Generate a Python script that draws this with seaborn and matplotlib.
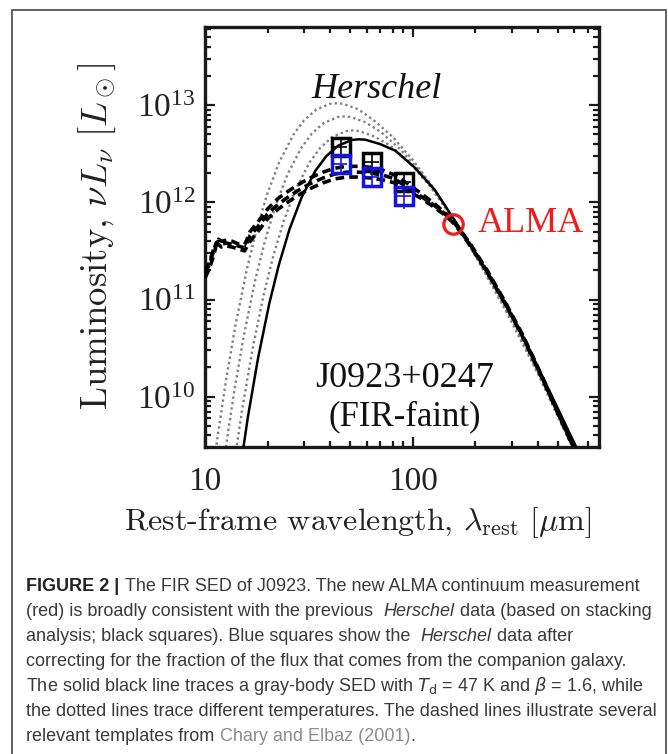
import matplotlib
matplotlib.use('Agg')
import numpy as np
import pandas as pd
import matplotlib.pyplot as plt
import seaborn as sns
from matplotlib.patches import Rectangle
from matplotlib.ticker import LogLocator, NullFormatter, FixedLocator, FixedFormatter


# ---- values (wavelength in micron, log10 of nuL_nu in L_sun) ----
# gray body, T = 47 K (solid)
lam_47 = [13.31, 14.58, 16.11, 18.01, 20.41, 22.68, 25.51, 29.16, 34.01, 38.27, 43.73, 51.02,
          54.86, 58.87, 69.58, 82.74, 102.0, 127.6, 161.1, 204.1, 266.2, 360.2, 510.2, 765.3]
logL_47 = [8.526, 9.173, 9.798, 10.397, 10.961, 11.356, 11.721, 12.048, 12.324, 12.472, 12.582, 12.642,
           12.648, 12.645, 12.60, 12.53, 12.36, 12.13, 11.80, 11.455, 11.035, 10.512, 9.842, 9.049]

# gray bodies at other temperatures (dotted)
lam_50 = [12.51, 13.70, 15.15, 16.93, 19.18, 21.32, 23.98, 27.41, 31.97, 35.97, 41.11, 47.96,
          51.57, 55.34, 65.4, 77.77, 95.92, 119.9, 151.5, 191.8, 250.2, 338.5, 479.6, 719.4]
logL_50 = [8.617, 9.264, 9.889, 10.487, 11.051, 11.447, 11.812, 12.138, 12.415, 12.563, 12.673, 12.733,
           12.739, 12.733, 12.677, 12.586, 12.416, 12.178, 11.876, 11.534, 11.121, 10.603, 9.937, 9.144]
lam_55 = [11.37, 12.46, 13.77, 15.39, 17.44, 19.38, 21.8, 24.91, 29.07, 32.7, 37.37, 43.6,
          46.88, 50.31, 59.45, 70.7, 87.2, 109.0, 137.7, 174.4, 227.5, 307.8, 436.0, 654.0]
logL_55 = [8.761, 9.408, 10.033, 10.632, 11.196, 11.591, 11.956, 12.283, 12.559, 12.707, 12.817, 12.877,
           12.883, 12.878, 12.822, 12.72, 12.545, 12.312, 12.015, 11.668, 11.255, 10.752, 10.097, 9.299]
lam_60 = [10.43, 11.42, 12.62, 14.11, 15.99, 17.76, 19.98, 22.84, 26.64, 29.98, 34.26, 39.97,
          42.97, 46.12, 54.5, 64.81, 79.93, 99.92, 126.2, 159.9, 208.5, 282.1, 399.7, 599.5, 799.3]
logL_60 = [8.897, 9.544, 10.169, 10.767, 11.332, 11.727, 12.092, 12.419, 12.695, 12.843, 12.953, 13.013,
           13.019, 13.014, 12.958, 12.846, 12.676, 12.438, 12.146, 11.794, 11.386, 10.878, 10.243, 9.44, 8.868]

# Chary & Elbaz templates (dashed)
lam_tpl = [10, 10.5, 11, 11.3, 11.6, 12, 12.7, 13.5, 14.5, 15.5, 16.5, 18, 20, 22.5, 25, 28, 32, 37,
           42, 48, 55, 63, 72, 82, 95, 110, 127, 145, 160, 190, 230, 280, 340, 420, 510, 620, 750]
logL_tpl_a = [11.27, 11.36, 11.50, 11.58, 11.60, 11.57, 11.58, 11.57, 11.55, 11.53, 11.66, 11.75, 11.88,
              11.98, 12.05, 12.12, 12.19, 12.25, 12.29, 12.31, 12.31, 12.30, 12.28, 12.24, 12.15, 12.06,
              11.97, 11.87, 11.78, 11.56, 11.28, 10.96, 10.62, 10.20, 9.80, 9.40, 8.95]
logL_tpl_b = [11.22, 11.32, 11.45, 11.55, 11.62, 11.60, 11.61, 11.60, 11.57, 11.56, 11.70, 11.80, 11.93,
              12.04, 12.11, 12.18, 12.25, 12.31, 12.35, 12.37, 12.37, 12.36, 12.33, 12.28, 12.19, 12.09,
              11.99, 11.88, 11.79, 11.57, 11.29, 10.97, 10.63, 10.21, 9.81, 9.41, 8.96]
logL_tpl_c = [11.30, 11.38, 11.52, 11.57, 11.57, 11.54, 11.55, 11.54, 11.52, 11.50, 11.60, 11.70, 11.83,
              11.93, 12.00, 12.07, 12.14, 12.20, 12.24, 12.26, 12.26, 12.25, 12.23, 12.20, 12.12, 12.04,
              11.95, 11.86, 11.77, 11.55, 11.27, 10.95, 10.61, 10.19, 9.79, 9.39, 8.94]

# photometry
herschel_lam = [45, 64, 91]
herschel_L = [3.7e12, 2.6e12, 1.63e12]
herschel_yerr = [0.7e12, 0.5e12, 0.32e12]
corrected_L = [2.5e12, 1.84e12, 1.15e12]
corrected_yerr = [0.6e12, 0.45e12, 0.3e12]
herschel_xerr = [3.5, 5.0, 7.1]
alma_lam = [157]
alma_L = [6.0e11]

xticks = [10, 100]
xtick_labels = ['10', '100']

caption_lines = [
    [('FIGURE 2 |', 'bold'), (' The FIR SED of J0923. The new ALMA continuum measurement', 'normal')],
    [('(red) is broadly consistent with the previous  ', 'normal'), ('Herschel', 'italic'),
     (' data (based on stacking', 'normal')],
    [('analysis; black squares). Blue squares show the  ', 'normal'), ('Herschel', 'italic'),
     (' data after', 'normal')],
    [('correcting for the fraction of the flux that comes from the companion galaxy.', 'normal')],
    [(r'The solid black line traces a gray-body SED with $T_\mathrm{d}$ = 47 K and $\beta$ = 1.6, while',
      'normal')],
    [('the dotted lines trace different temperatures. The dashed lines illustrate several', 'normal')],
    [('relevant templates from ', 'normal'), ('Chary and Elbaz (2001)', 'link'), ('.', 'normal')],
]


def curve(lam, logL):
    return pd.DataFrame({'lam': lam, 'L': 10 ** np.array(logL)})


sns.set_theme(style='ticks')
plt.rcParams['font.family'] = ['Liberation Serif', 'DejaVu Serif']
plt.rcParams['mathtext.fontset'] = 'stix'

fig = plt.figure(figsize=(6.68, 7.54), dpi=100)
ax = fig.add_axes([205 / 668, 1 - 447 / 754, 394 / 668, 420 / 754])
ax.set_xscale('log')
ax.set_yscale('log')

# dotted gray bodies
for lam, logL in [(lam_60, logL_60), (lam_55, logL_55), (lam_50, logL_50)]:
    sns.lineplot(data=curve(lam, logL), x='lam', y='L', ax=ax, color='#808080', lw=1.7,
                 linestyle=(0, (1, 1.3)), zorder=2)
# solid gray body
sns.lineplot(data=curve(lam_47, logL_47), x='lam', y='L', ax=ax, color='black', lw=1.8, zorder=3)
# dashed templates
for logL in [logL_tpl_a, logL_tpl_b, logL_tpl_c]:
    sns.lineplot(data=curve(lam_tpl, logL), x='lam', y='L', ax=ax, color='black', lw=2.6,
                 linestyle=(0, (2.4, 1.4)), zorder=4)

# Herschel points
ax.errorbar(herschel_lam, herschel_L, yerr=herschel_yerr, xerr=herschel_xerr, fmt='s', ms=12.5,
            mfc='none', mec='black', mew=2.5, ecolor='black', elinewidth=1.2, capsize=0, zorder=5)
ax.errorbar(herschel_lam, corrected_L, yerr=corrected_yerr, xerr=herschel_xerr, fmt='s', ms=12.5,
            mfc='none', mec='#1414e6', mew=2.5, ecolor='#1414e6', elinewidth=1.2, capsize=0, zorder=6)
ax.plot(alma_lam, alma_L, 'o', ms=14, mfc='none', mec='#ee1c1c', mew=2.3, zorder=7)

ax.set_xlim(10, 790)
ax.set_ylim(3.04e9, 6.36e13)
ax.xaxis.set_major_locator(FixedLocator(xticks))
ax.xaxis.set_major_formatter(FixedFormatter(xtick_labels))
ax.xaxis.set_minor_locator(LogLocator(base=10, subs=np.arange(2, 10)))
ax.xaxis.set_minor_formatter(NullFormatter())
ax.yaxis.set_major_locator(LogLocator(base=10))
ax.yaxis.set_minor_locator(LogLocator(base=10, subs=np.arange(2, 10), numticks=20))
ax.yaxis.set_minor_formatter(NullFormatter())
ax.set_xlabel('')
ax.set_ylabel('')

ax.tick_params(which='both', direction='in', top=True, right=True, width=1.6,
               colors='#1a1a1a', labelcolor='#222222', labelsize=24)
ax.tick_params(which='major', length=7.5)
ax.tick_params(which='minor', length=4.5)
ax.tick_params(axis='x', which='major', pad=14)
ax.tick_params(axis='y', which='major', pad=7)
for sp in ax.spines.values():
    sp.set_linewidth(2.4)
    sp.set_color('#1a1a1a')

ax.text(0.4365, 0.85, 'Herschel', style='italic', fontsize=26, ha='center', va='center',
        transform=ax.transAxes, color='#111111')
ax.text(0.5076, 0.164, 'J0923+0247', fontsize=26, ha='center', va='center',
        transform=ax.transAxes, color='#111111')
ax.text(0.5076, 0.0714, '(FIR-faint)', fontsize=25, ha='center', va='center',
        transform=ax.transAxes, color='#111111')
ax.text(0.693, 0.531, 'ALMA', fontsize=26, color='#ee1c1c', ha='left', va='center',
        transform=ax.transAxes)

fig.text(97 / 668, 1 - 236 / 754, r'Luminosity, $\nu L_\nu\ [L_\odot]$', rotation=90,
         ha='center', va='center', fontsize=26.5, family='cmr10', math_fontfamily='cm', color='#222222')
fig.text(358 / 668, 1 - 523 / 754, r'Rest-frame wavelength, $\lambda_\mathrm{rest}\ [\mu\mathrm{m}]$',
         ha='center', va='center', fontsize=23, family='cmr10', math_fontfamily='cm', color='#222222')

# frame around figure + caption
fig.patches.append(Rectangle((12 / 668, -0.05), 654 / 668, 1 - 10 / 754 + 0.05,
                             transform=fig.transFigure, fill=False, ec='#555555', lw=1.3))

# caption, drawn piece by piece
renderer = fig.canvas.get_renderer()
W = fig.bbox.width
base = dict(family=['Liberation Sans', 'DejaVu Sans'], math_fontfamily='dejavusans', va='baseline', ha='left')


def width_of(s, size, **kw):
    t = fig.text(0, 0, s, fontsize=size, **base, **kw)
    w = t.get_window_extent(renderer).width
    t.remove()
    return w


cap_size = 12 * 604 / width_of(caption_lines[3][0][0], 12)
space_w = width_of('a a', cap_size) - width_of('aa', cap_size)
styles = {
    'normal': dict(color='#3a3a3a'),
    'bold': dict(color='#222222', weight='bold'),
    'italic': dict(color='#3a3a3a', style='italic'),
    'link': dict(color='#8c8c8c'),
}
for i, line in enumerate(caption_lines):
    y = 1 - (585 + 25 * i + 6) / 754
    x = 26.5
    for txt, st in line:
        core = txt.strip(' ')
        x += (len(txt) - len(txt.lstrip(' '))) * space_w
        t = fig.text(x / W, y, core, fontsize=cap_size, **base, **styles[st])
        x += t.get_window_extent(renderer).width
        x += (len(txt) - len(txt.rstrip(' '))) * space_w

fig.savefig('out.png', dpi=100)
